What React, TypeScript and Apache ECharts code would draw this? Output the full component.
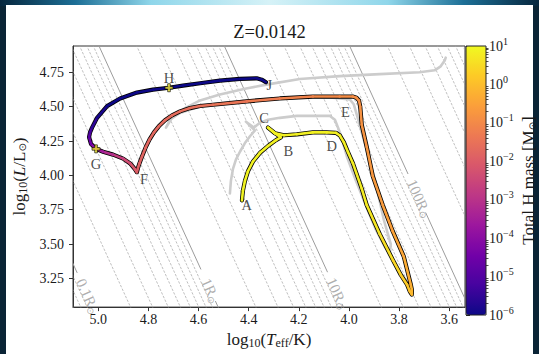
import React, { useEffect, useRef } from 'react';
import * as echarts from 'echarts';

// ---------- data ----------
const xTicks = [5.0, 4.8, 4.6, 4.4, 4.2, 4.0, 3.8, 3.6];
const yTicks = [3.25, 3.5, 3.75, 4.0, 4.25, 4.5, 4.75];
const xRange = [3.537, 5.101];
const yRange = [3.041, 4.942];
const cbDecades = [-6, -5, -4, -3, -2, -1, 0, 1];
const cbMinorMultipliers = [2, 3, 4, 5, 6, 7, 8, 9];
const titleText = 'Z=0.0142';

const LOG_TSUN = 3.7617;
const isoRadii = [
  0.05, 0.06, 0.07, 0.08, 0.09,
  0.1, 0.2, 0.3, 0.4, 0.5, 0.6, 0.7, 0.8, 0.9,
  1, 2, 3, 4, 5, 6, 7, 8, 9,
  10, 20, 30, 40, 50, 60, 70, 80, 90,
  100, 200, 300, 400, 500, 600, 700, 800, 900, 1000,
];
const labeledRadii = [0.1, 1, 10, 100];
const radiusLabelText = ['0.1R', '1R', '10R', '100R'];
const radiusLabelLogL = [3.16, 3.2, 3.18, 3.87];

// [log Teff, log L, log10 total H mass]
const trackPoints: number[][] = [
  [4.427, 3.818, 0.92], [4.423, 3.889, 0.92], [4.415, 3.960, 0.91], [4.403, 4.030, 0.91],
  [4.383, 4.101, 0.90], [4.355, 4.164, 0.90], [4.323, 4.214, 0.89], [4.291, 4.257, 0.89],
  [4.272, 4.277, 0.88], [4.299, 4.313, 0.88], [4.323, 4.348, 0.88], [4.295, 4.306, 0.87],
  [4.259, 4.292, 0.87], [4.208, 4.299, 0.87], [4.144, 4.313, 0.86], [4.089, 4.313, 0.86],
  [4.052, 4.310, 0.85], [4.036, 4.290, 0.85], [4.020, 4.240, 0.84], [4.004, 4.170, 0.83],
  [3.984, 4.087, 0.82],
  [3.949, 3.904, 0.78], [3.929, 3.784, 0.75], [3.877, 3.572, 0.65], [3.824, 3.381, 0.50],
  [3.793, 3.275, 0.35], [3.768, 3.204, 0.20], [3.757, 3.154, 0.05], [3.749, 3.133, -0.05],
  [3.749, 3.168, -0.15], [3.753, 3.203, -0.22], [3.781, 3.408, -0.40], [3.825, 3.592, -0.50],
  [3.865, 3.783, -0.60], [3.905, 3.995, -0.68], [3.929, 4.207, -0.75], [3.949, 4.369, -0.80],
  [3.955, 4.500, -0.85], [3.960, 4.545, -0.87], [3.970, 4.565, -0.89], [3.985, 4.574, -0.90],
  [4.037, 4.574, -0.95],
  [4.144, 4.574, -1.05], [4.276, 4.560, -1.20], [4.407, 4.539, -1.35], [4.543, 4.514, -1.50],
  [4.594, 4.505, -1.55], [4.634, 4.490, -1.58], [4.674, 4.466, -1.61], [4.706, 4.437, -1.64],
  [4.734, 4.401, -1.67], [4.758, 4.359, -1.70], [4.778, 4.313, -1.72], [4.796, 4.260, -1.75],
  [4.812, 4.200, -1.78], [4.826, 4.136, -1.82], [4.836, 4.087, -1.86], [4.842, 4.052, -1.88],
  [4.846, 4.023, -1.90], [4.854, 4.045, -2.00],
  [4.873, 4.087, -2.20], [4.901, 4.122, -2.50], [4.941, 4.151, -2.90], [4.981, 4.172, -3.35],
  [5.009, 4.193, -3.80], [5.029, 4.228, -4.30], [5.037, 4.278, -4.80], [5.033, 4.313, -5.10],
  [5.025, 4.348, -5.40], [5.005, 4.419, -5.70], [4.965, 4.504, -6.0], [4.913, 4.560, -6.0],
  [4.846, 4.603, -6.0], [4.782, 4.624, -6.0], [4.718, 4.638, -6.0], [4.662, 4.654, -6.0],
  [4.594, 4.671, -6.0], [4.515, 4.690, -6.0], [4.435, 4.702, -6.0], [4.368, 4.707, -6.0],
  [4.348, 4.697, -6.0], [4.331, 4.678, -6.0],
];

// comparison track (grey): [log Teff, log L]
const grayTrack: number[][] = [
  [4.475, 3.868], [4.471, 3.960], [4.463, 4.045], [4.451, 4.115], [4.435, 4.172],
  [4.415, 4.235], [4.395, 4.285], [4.375, 4.327], [4.411, 4.391], [4.379, 4.348],
  [4.355, 4.384], [4.323, 4.405], [4.276, 4.419], [4.208, 4.433], [4.144, 4.433],
  [4.076, 4.433], [4.056, 4.405], [4.036, 4.313], [4.008, 4.136], [3.972, 3.960],
  [3.933, 3.783], [3.893, 3.606], [3.857, 3.479], [3.837, 3.429], [3.833, 3.500],
  [3.861, 3.677], [3.897, 3.974], [3.933, 4.207], [3.965, 4.419], [3.981, 4.518],
  [3.996, 4.553], [4.076, 4.567], [4.196, 4.571], [4.355, 4.553], [4.475, 4.532],
  [4.594, 4.504], [4.674, 4.454], [4.714, 4.405], [4.730, 4.348], [4.706, 4.419],
  [4.654, 4.490], [4.594, 4.546], [4.515, 4.589], [4.415, 4.631], [4.335, 4.659],
  [4.196, 4.702], [4.037, 4.723], [3.877, 4.737], [3.718, 4.751], [3.658, 4.765],
  [3.634, 4.794], [3.618, 4.836], [3.614, 4.857],
];

const markedPoints: number[][] = [[5.009, 4.193], [4.718, 4.638]];

const labelNames = ['A', 'B', 'C', 'D', 'E', 'F', 'G', 'H', 'J'];
const labelT = [4.408, 4.242, 4.339, 4.069, 4.014, 4.818, 5.009, 4.718, 4.318];
const labelL = [3.783, 4.179, 4.419, 4.214, 4.461, 3.976, 4.082, 4.709, 4.659];

// ---------- styles ----------
const FONT = 'Liberation Serif';
const PLASMA = ['#0d0887', '#46039f', '#7201a8', '#9c179e', '#bd3786', '#d8576b', '#ed7953', '#fb9f3a', '#fdca26', '#f0f921'];
const TXT = '#1a1a1a';
const tickRich = { r: { fontFamily: FONT, fontSize: 14, color: TXT } };

function isoT(R: number, logL: number) {
  return LOG_TSUN + (logL - 2 * Math.log10(R)) / 4;
}

function buildOption(): any {
  const series: any[] = [];
  const lowL = yRange[0] - 0.2;
  const highL = yRange[1] + 0.2;

  isoRadii.forEach((R) => {
    const li = labeledRadii.findIndex((r) => Math.abs(r - R) < 1e-9);
    const isDecade = li >= 0;
    const style = isDecade
      ? { color: '#9c9c9c', width: 1, type: 'solid' }
      : { color: '#a3a3a3', width: 0.7, type: [2.5, 1.5] };
    const pieces: number[][][] = [];
    if (isDecade) {
      const gap = R >= 100 ? 0.14 : R < 1 ? 0.13 : 0.115;
      const lc = radiusLabelLogL[li];
      pieces.push([[isoT(R, lowL), lowL], [isoT(R, lc - gap), lc - gap]]);
      pieces.push([[isoT(R, lc + gap), lc + gap], [isoT(R, highL), highL]]);
    } else {
      pieces.push([[isoT(R, lowL), lowL], [isoT(R, highL), highL]]);
    }
    pieces.forEach((d) => {
      series.push({
        type: 'line', data: d, symbol: 'none', silent: true, clip: true, z: 1,
        lineStyle: style,
      });
    });
  });

  series.push({
    type: 'scatter', symbolSize: 0, silent: true, z: 2,
    data: labeledRadii.map((R, i) => ({ value: [isoT(R, radiusLabelLogL[i]), radiusLabelLogL[i]], name: radiusLabelText[i] })),
    label: {
      show: true, position: 'inside', rotate: -66, offset: [6, 0],
      formatter: (p: any) => `{t|${p.name}}{s|⊙}`,
      rich: {
        t: { fontFamily: FONT, fontSize: 15, color: '#999999' },
        s: { fontFamily: 'DejaVu Sans', fontSize: 9.5, color: '#999999', padding: [6, 0, 0, 0] },
      },
    },
  });

  series.push({
    type: 'line', data: grayTrack, symbol: 'none', silent: true, z: 3,
    lineStyle: { color: '#cccccc', width: 2.6, cap: 'round', join: 'round' },
  });

  series.push({
    type: 'line', data: trackPoints.map((p) => [p[0], p[1]]), symbol: 'none', silent: true, z: 4,
    lineStyle: { color: '#000', width: 4.2, cap: 'round', join: 'round' },
  });

  const segs: number[][] = [];
  for (let i = 0; i < trackPoints.length - 1; i++) {
    const a = trackPoints[i];
    const b = trackPoints[i + 1];
    segs.push([a[0], a[1], b[0], b[1], (a[2] + b[2]) / 2]);
  }
  const coloredIndex = series.length;
  series.push({
    type: 'custom', data: segs, z: 5, silent: true, clip: true,
    encode: { x: [0, 2], y: [1, 3] },
    renderItem: (params: any, api: any) => {
      const p1 = api.coord([api.value(0), api.value(1)]);
      const p2 = api.coord([api.value(2), api.value(3)]);
      return {
        type: 'line',
        shape: { x1: p1[0], y1: p1[1], x2: p2[0], y2: p2[1] },
        style: { stroke: api.visual('color'), lineWidth: 2.6, lineCap: 'round' },
      };
    },
  });

  series.push({
    type: 'scatter', data: markedPoints, z: 6, silent: true,
    symbol: 'path://M-1,-3H1V-1H3V1H1V3H-1V1H-3V-1H-1Z', symbolSize: 8,
    itemStyle: { color: '#f2e82a', borderColor: '#000', borderWidth: 0.8 },
  });

  series.push({
    type: 'scatter', symbolSize: 0, silent: true, z: 7,
    data: labelNames.map((n, i) => ({ value: [labelT[i], labelL[i]], name: n })),
    label: {
      show: true, position: 'inside', formatter: (p: any) => `{r|${p.name}}`,
      rich: { r: { fontFamily: FONT, fontSize: 14.5, color: TXT } },
    },
  });

  const minorTicks: number[] = [];
  cbDecades.slice(0, -1).forEach((d) => cbMinorMultipliers.forEach((m) => minorTicks.push(d + Math.log10(m))));

  const axisNameRich = {
    n: { fontFamily: FONT, fontSize: 17, color: TXT },
    i: { fontFamily: FONT, fontSize: 17, color: TXT, fontStyle: 'italic' },
    s: { fontFamily: FONT, fontSize: 12, color: TXT, padding: [7, 0, 0, 0] },
    o: { fontFamily: 'DejaVu Sans', fontSize: 10, color: TXT, padding: [7, 0, 0, 0] },
  };

  return {
    animation: false,
    backgroundColor: 'transparent',
    textStyle: { fontFamily: FONT },
    graphic: [
      {
        type: 'text', left: 'center', top: 22, silent: true,
        style: { text: titleText, fontFamily: FONT, fontSize: 18.5, fill: TXT },
      },
    ],
    grid: [
      { left: 73, top: 46, width: 392, height: 269, show: true, borderColor: '#333', borderWidth: 1, backgroundColor: 'transparent' },
      { left: 466, top: 46, width: 20, height: 269, show: true, borderColor: '#222', borderWidth: 1, backgroundColor: 'transparent', z: 10 },
    ],
    xAxis: [
      {
        type: 'value', gridIndex: 0, inverse: true, min: xRange[0], max: xRange[1],
        axisLine: { show: true, onZero: false, lineStyle: { color: '#333', width: 1 } },
        axisTick: { show: true, customValues: xTicks, length: 4, lineStyle: { color: '#333' } },
        axisLabel: { customValues: xTicks, formatter: (v: number) => `{r|${v.toFixed(1)}}`, rich: tickRich, margin: 5 },
        splitLine: { show: false },
        name: '{n|log}{s|10}{n|(}{i|T}{s|eff}{n|/K)}', nameLocation: 'middle', nameGap: 15,
        nameTextStyle: { fontFamily: FONT, rich: axisNameRich },
      },
      { type: 'value', gridIndex: 1, min: 0, max: 1, show: false },
    ],
    yAxis: [
      {
        type: 'value', gridIndex: 0, min: yRange[0], max: yRange[1],
        axisLine: { show: true, onZero: false, lineStyle: { color: '#333', width: 1 } },
        axisTick: { show: true, customValues: yTicks, length: 4, lineStyle: { color: '#333' } },
        axisLabel: { customValues: yTicks, formatter: (v: number) => `{r|${v.toFixed(2)}}`, rich: tickRich, margin: 9 },
        splitLine: { show: false },
        name: '{n|log}{s|10}{n|(}{i|L}{n|/L}{o|⊙}{n|)}', nameLocation: 'middle', nameGap: 37, nameRotate: 90,
        nameTextStyle: { fontFamily: FONT, rich: axisNameRich },
      },
      {
        type: 'value', gridIndex: 1, min: -6, max: 1, interval: 1, position: 'right',
        axisLine: { show: false },
        axisTick: { show: true, length: 4, lineStyle: { color: '#222' } },
        axisLabel: {
          fontFamily: FONT, margin: 3,
          formatter: (v: number) => `{a|10}{b|${v < 0 ? '−' + (-v) : v}}`,
          rich: {
            a: { fontFamily: FONT, fontSize: 14, color: TXT },
            b: { fontFamily: FONT, fontSize: 10, color: TXT, padding: [0, 0, 10, 0] },
          },
        },
        splitLine: { show: false },
        name: '{n|Total H mass [M}{o|⊙}{n|]}', nameLocation: 'middle', nameGap: 34, nameRotate: 90,
        nameTextStyle: { fontFamily: FONT, fontSize: 16.5, color: TXT, rich: axisNameRich },
      },
      {
        type: 'value', gridIndex: 1, min: -6, max: 1, position: 'right',
        axisLine: { show: false },
        axisTick: { show: true, customValues: minorTicks, length: 2.5, lineStyle: { color: '#222', width: 0.8 } },
        axisLabel: { show: false },
        splitLine: { show: false },
      },
    ],
    visualMap: {
      type: 'continuous', min: -6, max: 1, dimension: 4, seriesIndex: coloredIndex,
      inRange: { color: PLASMA }, left: 466, top: 46, itemWidth: 20, itemHeight: 269,
      calculable: false, padding: 0, hoverLink: false, orient: 'vertical', z: 4,
    },
    series,
  };
}

export default function App() {
  const ref = useRef<HTMLDivElement>(null);
  useEffect(() => {
    const chart = echarts.init(ref.current!, null, { renderer: 'svg' });
    chart.setOption(buildOption());
    return () => chart.dispose();
  }, []);
  return (
    <div style={{ position: 'fixed', left: 0, top: 0, width: 539, height: 354, background: '#0a2435', overflow: 'hidden' }}>
      <div style={{ position: 'absolute', left: 0, top: 0, width: 539, height: 6, background: 'linear-gradient(90deg, #06263d 0%, #1d6f96 14%, #8fd6ea 28%, #d6f2f7 50%, #8fd6ea 72%, #1d6f96 86%, #06263d 100%)' }} />
      <div style={{ position: 'absolute', left: 6, top: 5, width: 527, height: 349, background: '#ffffff' }} />
      <div ref={ref} style={{ position: 'absolute', left: 0, top: 0, width: 539, height: 354 }} />
    </div>
  );
}
